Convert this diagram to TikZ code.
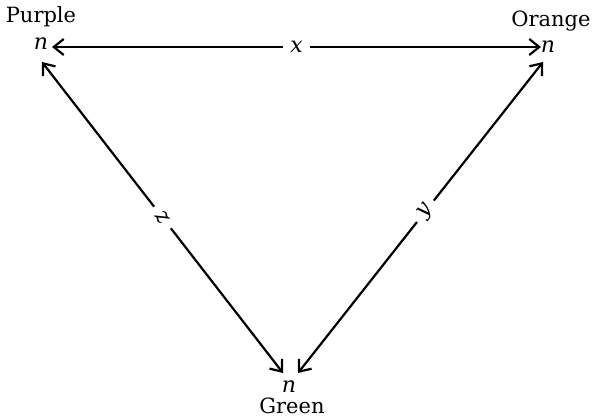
\documentclass[tikz,border=0pt]{standalone}
\usepackage{fontspec}
\newfontfamily\labfont{DejaVu Serif}
\usetikzlibrary{arrows.meta}
\begin{document}
\begin{tikzpicture}[x=1pt,y=-1pt,
  endtip/.tip={Straight Barb[length=10pt,width=16pt,line width=2.2pt]},
  conn/.style={line width=2.2pt,{endtip}-{endtip}},
  edgelab/.style={fill=white,inner sep=0pt,minimum width=27pt,minimum height=14pt,font=\labfont\fontsize{22}{26}\selectfont\itshape},
  vertlab/.style={inner sep=0pt,anchor=base,font=\labfont\fontsize{22}{26}\selectfont\itshape},
  colourlab/.style={inner sep=0pt,anchor=base,font=\labfont\fontsize{21}{25}\selectfont}]
\useasboundingbox (0,0) rectangle (594,417);
% vertices
\node[vertlab] (Pn) at (41,50) {n};
\node[vertlab] (On) at (548,53) {n};
\node[vertlab] (Gn) at (289,392) {n};
\node[colourlab] (Pl) at (41,23) {Purple};
\node[colourlab] (Ol) at (551,27) {Orange};
\node[colourlab] (Gl) at (292,413) {Green};
% connector ends
\coordinate (PE) at (52,47);
\coordinate (OW) at (541,47);
\coordinate (PS) at (42,62);
\coordinate (GL) at (283,373);
\coordinate (GR) at (298,373);
\coordinate (OS) at (543,62);
% connectors
\draw[conn] (PE) -- node[edgelab] (xl) {x} (OW);
\draw[conn] (PS) -- node[edgelab,sloped] (zl) {z} (GL);
\draw[conn] (GR) -- node[edgelab,sloped,pos=0.52] (yl) {y} (OS);
\end{tikzpicture}
\end{document}
